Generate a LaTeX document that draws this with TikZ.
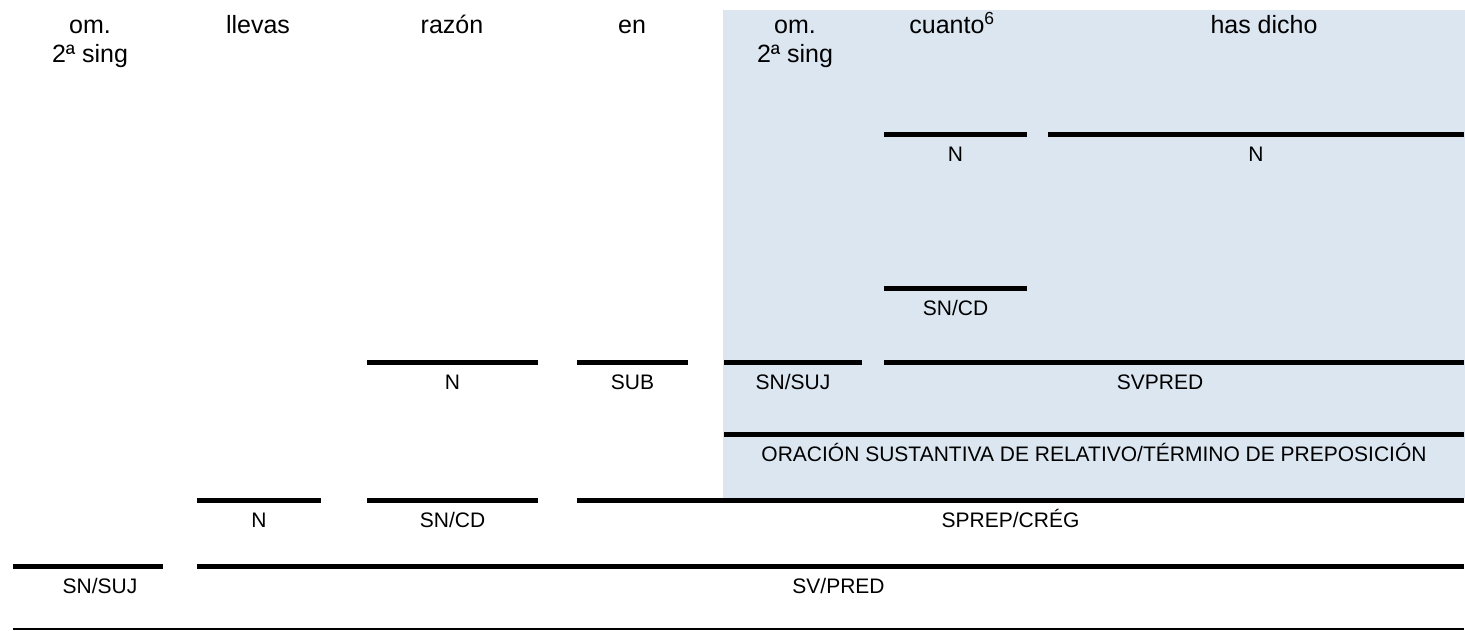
\documentclass[tikz,border=0pt]{standalone}
\usepackage{fontspec}
\setmainfont{Liberation Sans}
\usetikzlibrary{positioning}
\definecolor{clausefill}{RGB}{220,230,241}
\tikzset{
  word/.style={anchor=base, align=center, inner sep=0pt, font=\fontsize{25}{29}\selectfont},
  bar/.style={line width=5pt},
  tag/.style={midway, anchor=base, yshift=-27pt, inner sep=0pt, font=\fontsize{21}{24}\selectfont},
}

\begin{document}
\begin{tikzpicture}[x=1pt, y=-1pt]
  \useasboundingbox (0,0) rectangle (1465,631);

  % shaded relative clause
  \fill[clausefill] (723,10) rectangle (1465,498);

  % Words (two-line ones sit on their last baseline)
  \node[word] (w1) at (90,63) {om.\\2ª sing};
  \node[word] (w2) at (258,34) {llevas};
  \node[word] (w3) at (452,34) {razón};
  \node[word] (w4) at (632,34) {en};
  \node[word] (w5) at (795,63) {om.\\2ª sing};
  \node[word] (w6) at (952,34) {cuanto\textsuperscript{6}};
  \node[word] (w7) at (1264,34) {has dicho};

  % inner clause
  \draw[bar] (884,135) -- node[tag] (n1) {N} (1027,135);
  \draw[bar] (1048,135) -- node[tag] (n2) {N} (1464,135);
  \draw[bar] (884,288) -- node[tag] (cd1) {SN/CD} (1027,288);
  \draw[bar] (724,362) -- node[tag] (suj1) {SN/SUJ} (862,362);
  \draw[bar] (884,362) -- node[tag, xshift=-14pt] (pred1) {SVPRED} (1464,362);
  \draw[bar] (724,434) -- node[tag] (rel) {ORACIÓN SUSTANTIVA DE RELATIVO/TÉRMINO DE PREPOSICIÓN} (1464,434);

  % main clause
  \draw[bar] (367,362) -- node[tag] (n3) {N} (538,362);
  \draw[bar] (577,362) -- node[tag] (sub) {SUB} (688,362);
  \draw[bar] (197,500) -- node[tag] (n4) {N} (321,500);
  \draw[bar] (367,500) -- node[tag] (cd2) {SN/CD} (538,500);
  \draw[bar] (577,500) -- node[tag, xshift=-10pt] (creg) {SPREP/CRÉG} (1464,500);
  \draw[bar] (13,566) -- node[tag, xshift=12pt] (suj2) {SN/SUJ} (163,566);
  \draw[bar] (197,566) -- node[tag, xshift=8pt] (pred2) {SV/PRED} (1464,566);

  \draw[line width=1.5pt] (13,629) -- (1464,629);
\end{tikzpicture}
\end{document}
